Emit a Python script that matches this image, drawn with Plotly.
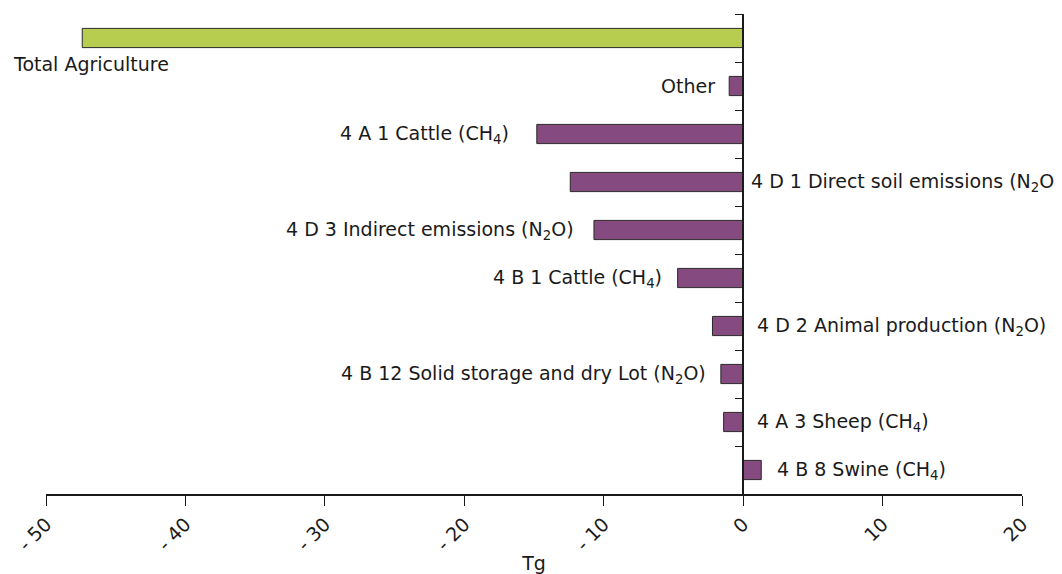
import plotly.graph_objects as go

categories = [
    "Total Agriculture",
    "Other",
    "4 A 1 Cattle (CH<sub>4</sub>)",
    "4 D 1 Direct soil emissions (N<sub>2</sub>O)",
    "4 D 3 Indirect emissions (N<sub>2</sub>O)",
    "4 B 1 Cattle (CH<sub>4</sub>)",
    "4 D 2 Animal production (N<sub>2</sub>O)",
    "4 B 12 Solid storage and dry Lot (N<sub>2</sub>O)",
    "4 A 3 Sheep (CH<sub>4</sub>)",
    "4 B 8 Swine (CH<sub>4</sub>)",
]
values = [-47.4, -1.0, -14.8, -12.4, -10.7, -4.7, -2.2, -1.6, -1.4, 1.3]
x_tickvals = [-50, -40, -30, -20, -10, 0, 10, 20]
x_ticktext = ["- 50", "- 40", "- 30", "- 20", "- 10", "0", "10", "20"]

GREEN = "#b6cd4f"
PURPLE = "#854a7f"
FONT = dict(family="DejaVu Sans, Verdana, sans-serif", size=19, color="#1a1a1a")

colors = [GREEN] + [PURPLE] * (len(categories) - 1)

fig = go.Figure()
fig.add_trace(go.Bar(
    y=categories, x=values, orientation="h",
    marker=dict(color=colors, line=dict(color="#2a2a2a", width=1)),
    width=0.4, showlegend=False, hoverinfo="x+y",
))

# label placement: (anchor on 'bar' end or 'axis', side, xshift, yshift)
placement = {
    0: ("bar", "left", -71, -26),
    1: ("bar", "right", -12, 0),
    2: ("bar", "right", -26, 0),
    3: ("axis", "left", 6, 0),
    4: ("bar", "right", -18, 0),
    5: ("bar", "right", -14, 0),
    6: ("axis", "left", 12, 0),
    7: ("bar", "right", -13, 0),
    8: ("axis", "left", 12, 0),
    9: ("bar", "left", 14, 0),
}
for i, (cat, val) in enumerate(zip(categories, values)):
    ref, side, xs, ys = placement[i]
    fig.add_annotation(
        x=val if ref == "bar" else 0, y=cat, xref="x", yref="y",
        text=cat, showarrow=False, xanchor=side, yanchor="middle",
        xshift=xs, yshift=ys, font=FONT,
    )

n = len(categories)
fig.update_layout(
    width=1054, height=566,
    margin=dict(l=38, r=40, t=6, b=80, autoexpand=False),
    plot_bgcolor="white", paper_bgcolor="white",
    font=FONT, bargap=0.6,
    xaxis=dict(
        range=[-50, 20], tickvals=x_tickvals, ticktext=x_ticktext,
        tickangle=-45, ticks="outside", ticklen=10, tickcolor="#1a1a1a",
        showline=True, linecolor="#1a1a1a", linewidth=1.5,
        showgrid=False, zeroline=False, automargin=False,
        title=dict(text="Tg", font=FONT, standoff=4),
        tickfont=FONT,
    ),
    yaxis=dict(
        type="category", range=[n - 0.5, -0.5], autorange=False,
        anchor="free", position=50 / 70, automargin=False,
        showline=True, linecolor="#1a1a1a", linewidth=1.5,
        ticks="outside", ticklen=7, tickcolor="#1a1a1a",
        tickson="boundaries", showticklabels=False,
        showgrid=False, zeroline=False,
    ),
)

fig.write_html("out.html")
